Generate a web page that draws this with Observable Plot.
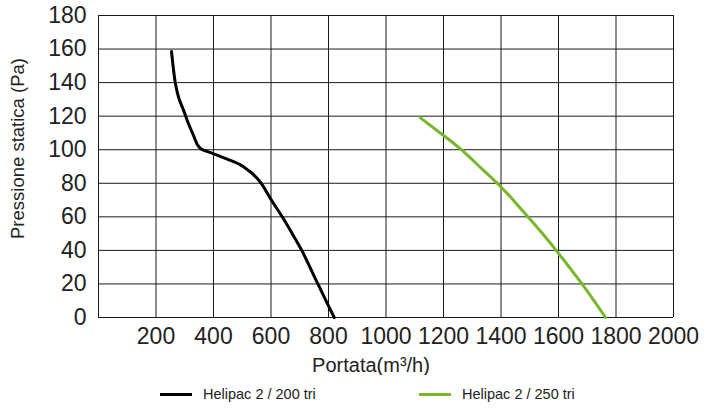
<!DOCTYPE html>
<html>
<head>
<meta charset="utf-8">
<script src="https://cdn.jsdelivr.net/npm/d3@7"></script>
<script src="https://cdn.jsdelivr.net/npm/@observablehq/plot@0.6"></script>
<style>
  html, body { margin: 0; padding: 0; background: #fff; }
  #chart { width: 719px; }
  #legend { position: relative; width: 719px; height: 35px; font-family: "Liberation Sans", Arial, sans-serif; font-size: 14.5px; color: #222; }
  .item { position: absolute; top: 11px; display: flex; align-items: center; }
  .swatch { width: 32px; height: 3px; margin-right: 11px; }
</style>
</head>
<body>
<div id="chart"></div>
<div id="legend"></div>
<script>
const seriesNames = ["Helipac 2 / 200 tri", "Helipac 2 / 250 tri"];
const seriesColors = ["#000000", "#76b82a"];

const flow200 = [254, 260, 268, 279, 297, 314, 331, 343, 357, 390, 448, 494, 523, 540, 566, 599, 639, 680, 707, 763, 797, 820];
const pressure200 = [158.5, 149, 139, 131, 123, 115, 108.3, 103.3, 100.4, 98.3, 94.4, 91, 87.4, 85, 80, 70.6, 60, 48.2, 40, 20, 8, 0];

const flow250 = [1120, 1200, 1260, 1330, 1400, 1445, 1492, 1545, 1598, 1640, 1683, 1725, 1764];
const pressure250 = [119, 108.5, 100.3, 89.2, 77.8, 69.5, 60.4, 49.9, 38.7, 29.4, 19.7, 9.6, 0];

const xGrid = [0, 200, 400, 600, 800, 1000, 1200, 1400, 1600, 1800, 2000];
const xTickLabels = [200, 400, 600, 800, 1000, 1200, 1400, 1600, 1800, 2000];
const yGrid = [0, 20, 40, 60, 80, 100, 120, 140, 160, 180];

const xLabel = "Portata(m³/h)";
const yLabel = "Pressione statica (Pa)";

const series200 = flow200.map((x, i) => ({series: seriesNames[0], x, y: pressure200[i]}));
const series250 = flow250.map((x, i) => ({series: seriesNames[1], x, y: pressure250[i]}));

const chart = Plot.plot({
  width: 719,
  height: 375,
  marginLeft: 98,
  marginRight: 46,
  marginTop: 15,
  marginBottom: 58,
  style: {fontFamily: "'Liberation Sans', Arial, sans-serif", color: "#222", background: "#fff"},
  x: {domain: [0, 2000]},
  y: {domain: [0, 180]},
  color: {domain: seriesNames, range: seriesColors},
  marks: [
    Plot.ruleX(xGrid, {stroke: "#1a1a1a", strokeWidth: 1}),
    Plot.ruleY(yGrid, {stroke: "#1a1a1a", strokeWidth: 1}),
    Plot.axisX(xTickLabels, {tickSize: 0, tickPadding: 10, fontSize: 23, label: null, tickFormat: d => String(d)}),
    Plot.axisY(yGrid, {tickSize: 0, tickPadding: 12, fontSize: 23, label: null, tickFormat: d => String(d)}),
    Plot.line(series200, {x: "x", y: "y", stroke: "series", strokeWidth: 3, curve: "catmull-rom"}),
    Plot.line(series250, {x: "x", y: "y", stroke: "series", strokeWidth: 3, curve: "natural"}),
    Plot.text([xLabel], {frameAnchor: "bottom", textAnchor: "middle", lineAnchor: "middle", dx: -15, dy: 48, fontSize: 20, fill: "#222"}),
    Plot.text([yLabel], {frameAnchor: "left", textAnchor: "middle", lineAnchor: "middle", rotate: -90, dx: -80, dy: -18, fontSize: 18.5, fill: "#222"})
  ]
});
document.getElementById("chart").appendChild(chart);

const legend = document.getElementById("legend");
const lefts = [160, 419];
seriesNames.forEach((name, i) => {
  const item = document.createElement("div");
  item.className = "item";
  item.style.left = lefts[i] + "px";
  const sw = document.createElement("span");
  sw.className = "swatch";
  sw.style.background = seriesColors[i];
  const t = document.createElement("span");
  t.textContent = name;
  item.appendChild(sw);
  item.appendChild(t);
  legend.appendChild(item);
});
</script>
</body>
</html>
